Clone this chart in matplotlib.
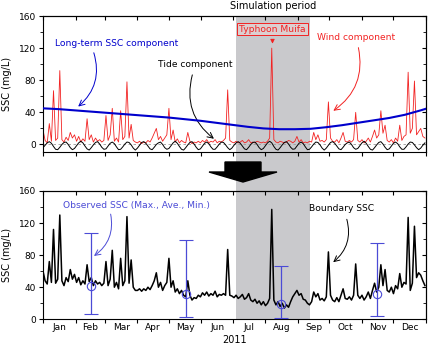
import numpy as np
import matplotlib
matplotlib.use("Agg")
import matplotlib.pyplot as plt
from matplotlib import transforms
from matplotlib.patches import Rectangle, Polygon
from matplotlib.ticker import FixedLocator, NullFormatter

# ---------------- data (day of year 2011, 2-day sampling) ----------------
days = np.arange(0, 366, 2)

wind_component = [
    18, 5, 2, 26, 4, 67, 5, 8, 92, 6, 3, 9, 5, 15, 8,
    12, 4, 10, 3, 7, 4, 32, 6, 12, 3, 8, 4, 6, 3, 5,
    36, 5, 12, 45, 4, 8, 3, 42, 6, 10, 78, 8, 25, 5, 3,
    2, 4, 1, 3, 2, 5, 3, 8, 14, 20, 6, 10, 4, 8, 12,
    45, 6, 18, 3, 7, 2, 5, 3, 2, 15, 4, 1, 3, 2, 4,
    2, 5, 3, 6, 2, 4, 3, 6, 2, 4, 3, 5, 8, 68, 5,
    3, 2, 4, 2, 3, 5, 2, 3, 6, 2, 3, 2, 4, 3, 2,
    3, 2, 4, 8, 120, 6, 3, 2, 4, 3, 2, 3, 5, 4, 2,
    4, 10, 3, 6, 2, 3, 2, 4, 3, 15, 6, 12, 4, 5, 3,
    6, 53, 8, 4, 3, 6, 2, 8, 15, 4, 3, 5, 3, 6, 40,
    5, 3, 6, 2, 4, 8, 3, 10, 18, 8, 12, 42, 14, 24, 5,
    3, 6, 2, 8, 4, 24, 5, 10, 12, 90, 14, 20, 79, 12, 16,
    20, 10, 8,
]

tide_component = [
    -4, -1, 2,
    3.5, 1.5, -2.5, -6, -6.5, -3.5, 0, 2.5, 3, 0, -4, -6.5, -5, -1.5, 2,
    4, 2, -2, -5.5, -7, -4, -0.5, 2.5, 3.5, 0.5, -3.5, -6, -5.5, -2, 1.5,
    3, 1, -3, -6.5, -6, -3, 0.5, 3, 2.5, -0.5, -4.5, -7, -4.5, -1, 2.5,
    3.5, 1.5, -2, -5.5, -6.5, -3.5, 0, 2, 3, 0, -4, -6, -5, -1.5, 2,
    4, 1.5, -2.5, -6, -7, -4, -0.5, 2.5, 3.5, 0.5, -3.5, -6.5, -5.5, -2, 1.5,
    3, 1, -3, -6, -6, -3, 0.5, 3, 2.5, -0.5, -4, -6.5, -4.5, -1, 2,
    3.5, 1.5, -2, -5.5, -6.5, -3.5, 0, 2.5, 3, 0, -4, -6.5, -5, -1.5, 2,
    4, 2, -2.5, -6, -7, -4, -0.5, 2.5, 3.5, 0.5, -3.5, -6, -5.5, -2, 1.5,
    3, 1, -3, -6.5, -6, -3, 0.5, 3, 2.5, -0.5, -4.5, -7, -4.5, -1, 2.5,
    3.5, 1.5, -2, -5.5, -6.5, -3.5, 0, 2, 3, 0, -4, -6, -5, -1.5, 2,
    4, 1.5, -2.5, -6, -7, -4, -0.5, 2.5, 3.5, 0.5, -3.5, -6.5, -5.5, -2, 1.5,
    3, 1, -3, -6, -6, -3, 0.5, 3, 2.5, -0.5, -4, -6.5, -4.5, -1, 2,
]

longterm_days = [0, 15, 30, 45, 60, 75, 90, 105, 120, 135, 150, 165, 180,
                 195, 210, 225, 240, 255, 270, 285, 300, 315, 330, 345, 360, 365]
longterm_ssc = [45, 44, 42.5, 41, 39.5, 38, 36.5, 35, 33.5, 31.5, 29.5, 27,
                24.5, 22, 20, 19, 19, 19.5, 21.5, 24, 27, 30, 33, 37, 42.5, 44.5]

boundary_ssc = [
    60, 48, 44, 72, 46, 112, 45, 50, 130, 48, 42, 52, 47, 62, 50,
    56, 46, 52, 43, 48, 44, 68, 47, 52, 42, 48, 44, 46, 42, 45,
    72, 42, 50, 86, 40, 46, 38, 76, 42, 48, 128, 45, 74, 40, 36,
    36, 38, 35, 38, 36, 40, 37, 42, 48, 58, 40, 46, 36, 42, 46,
    76, 40, 48, 34, 38, 32, 36, 30, 28, 48, 30, 24, 27, 26, 30,
    28, 33, 30, 34, 29, 32, 30, 35, 28, 31, 30, 32, 30, 87, 30,
    29, 27, 30, 26, 28, 31, 25, 27, 32, 24, 22, 25, 20, 23, 18,
    22, 17, 20, 26, 137, 24, 18, 22, 16, 20, 14, 18, 15, 22, 28,
    32, 36, 30, 32, 25, 24, 20, 18, 22, 34, 28, 32, 24, 26, 23,
    28, 84, 30, 24, 22, 27, 22, 30, 38, 26, 25, 28, 24, 30, 69,
    30, 26, 30, 24, 28, 34, 26, 36, 45, 34, 40, 68, 42, 62, 36,
    34, 40, 32, 42, 38, 57, 40, 46, 44, 127, 36, 45, 116, 52, 58,
    55, 48, 42,
]

obs_days = [46, 136, 227, 318]
obs_max = [108, 99, 67, 95]
obs_ave = [42, 32, 19, 31]
obs_min = [7, 2.5, 1, 4.5]

month_starts = [0, 31, 59, 90, 120, 151, 181, 212, 243, 273, 304, 334, 365]
month_names = ["Jan", "Feb", "Mar", "Apr", "May", "Jun",
               "Jul", "Aug", "Sep", "Oct", "Nov", "Dec"]
simulation_period = (184, 254.5)

# ---------------- figure ----------------
plt.rcParams["font.family"] = ["DejaVu Sans"]
fig = plt.figure(figsize=(4.28, 3.45), dpi=100)
ax1 = fig.add_axes([0.1005, 0.558, 0.8948, 0.3956])
ax2 = fig.add_axes([0.1005, 0.0745, 0.8948, 0.372])

BLUE = "#0000cc"
OBS_BLUE = "#4b4bd6"
RED = "#f22222"
FS = 6.5
AFS = 6.6

month_mid = [(a + b) / 2 for a, b in zip(month_starts[:-1], month_starts[1:])]


def style_axes(ax, ylim, show_months):
    ax.set_facecolor("none")
    ax.set_xlim(0, 365)
    ax.set_ylim(*ylim)
    ax.xaxis.set_major_locator(FixedLocator(month_starts))
    ax.xaxis.set_major_formatter(NullFormatter())
    ax.yaxis.set_major_locator(FixedLocator([0, 40, 80, 120, 160]))
    ax.yaxis.set_minor_locator(FixedLocator([20, 60, 100, 140]))
    ax.tick_params(axis="y", which="major", direction="out", length=3,
                   width=0.8, labelsize=FS, pad=2)
    ax.tick_params(axis="y", which="minor", direction="out", length=2, width=0.6)
    ax.tick_params(axis="x", which="major", direction="out", length=3, width=0.8)
    if show_months:
        ax.set_xticks(month_mid, month_names, minor=True)
        ax.tick_params(axis="x", which="minor", length=0, labelsize=FS, pad=3)
    for s in ax.spines.values():
        s.set_linewidth(0.8)
    top = ax.secondary_xaxis("top")
    top.xaxis.set_major_locator(FixedLocator(month_starts))
    top.xaxis.set_major_formatter(NullFormatter())
    top.tick_params(direction="in", length=3, width=0.8)
    right = ax.secondary_yaxis("right")
    right.yaxis.set_major_locator(FixedLocator([0, 40, 80, 120, 160]))
    right.yaxis.set_minor_locator(FixedLocator([20, 60, 100, 140]))
    right.yaxis.set_major_formatter(NullFormatter())
    right.tick_params(which="major", direction="in", length=3, width=0.8)
    right.tick_params(which="minor", direction="in", length=2, width=0.6)
    ax.set_ylabel("SSC (mg/L)", fontsize=7, labelpad=5)


style_axes(ax1, (-10, 160), False)
style_axes(ax2, (0, 160), True)
ax2.set_xlabel("2011", fontsize=7, labelpad=2)

# shaded simulation period spanning both panels
blend = transforms.blended_transform_factory(ax2.transData, fig.transFigure)
fig.add_artist(Rectangle((simulation_period[0], 0.0745),
                         simulation_period[1] - simulation_period[0],
                         0.9536 - 0.0745, transform=blend,
                         facecolor="#c9c9cc", edgecolor="none", zorder=-1))

# top panel: decomposition
ax1.axhline(0, color="#999999", lw=0.6, ls=(0, (3, 3)), zorder=1)
ax1.plot(days, wind_component, color=RED, lw=0.6, zorder=2)
ax1.plot(days, tide_component, color="black", lw=0.7, zorder=3)
ax1.plot(longterm_days, longterm_ssc, color=BLUE, lw=1.5, zorder=4)

ax1.text(11.4, 126, "Long-term SSC component", color=BLUE, fontsize=AFS,
         va="center", ha="left")
ax1.annotate("", xy=(31.5, 45), xytext=(47.6, 117.5),
             arrowprops=dict(arrowstyle="->", color=BLUE, lw=0.7,
                             connectionstyle="arc3,rad=-0.35"))
ax1.text(109.6, 100, "Tide component", color="black", fontsize=AFS,
         va="center", ha="left")
ax1.annotate("", xy=(165, 5), xytext=(143, 90),
             arrowprops=dict(arrowstyle="->", color="black", lw=0.7,
                             connectionstyle="arc3,rad=0.35"))
ax1.text(218.7, 143.7, "Typhoon Muifa", color=RED, fontsize=AFS,
         va="center", ha="center",
         bbox=dict(boxstyle="square,pad=0.2", facecolor="#dccfd0",
                   edgecolor=RED, lw=0.7))
ax1.annotate("", xy=(218.7, 122), xytext=(218.7, 134),
             arrowprops=dict(arrowstyle="-|>", color=RED, lw=0.7,
                             mutation_scale=6))
ax1.text(298.8, 133, "Wind component", color=RED, fontsize=AFS,
         va="center", ha="center")
ax1.annotate("", xy=(274.5, 40), xytext=(300, 124),
             arrowprops=dict(arrowstyle="->", color=RED, lw=0.7,
                             connectionstyle="arc3,rad=-0.35"))
ax1.text(219, 172, "Simulation period", color="black", fontsize=7,
         va="center", ha="center", clip_on=False)

# bottom panel: boundary SSC and observations
ax2.plot(days, boundary_ssc, color="black", lw=1.1, zorder=3)
obs_lo = np.array(obs_ave) - np.array(obs_min)
obs_hi = np.array(obs_max) - np.array(obs_ave)
ax2.errorbar(obs_days, obs_ave, yerr=[obs_lo, obs_hi], fmt="o", ms=6,
             mfc="none", mec=OBS_BLUE, mew=0.8, ecolor=OBS_BLUE,
             elinewidth=0.9, capsize=5, capthick=0.9, zorder=4)
ax2.text(18.8, 142, "Observed SSC (Max., Ave., Min.)", color=OBS_BLUE,
         fontsize=AFS, va="center", ha="left")
ax2.annotate("", xy=(46.4, 77), xytext=(63.9, 134.5),
             arrowprops=dict(arrowstyle="->", color=OBS_BLUE, lw=0.7,
                             connectionstyle="arc3,rad=-0.35"))
ax2.text(253.5, 138.7, "Boundary SSC", color="black", fontsize=AFS,
         va="center", ha="left")
ax2.annotate("", xy=(274.5, 69), xytext=(288.8, 128),
             arrowprops=dict(arrowstyle="->", color="black", lw=0.7,
                             connectionstyle="arc3,rad=-0.35"))

# big arrow between the panels (figure pixel frame)
W, H = 428.0, 345.0
arrow_px = [(225, 162), (261, 162), (261, 172), (277, 172), (243, 182),
            (209, 172), (225, 172)]
fig.add_artist(Polygon([(x / W, 1 - y / H) for x, y in arrow_px],
                       closed=True, transform=fig.transFigure,
                       facecolor="black", edgecolor="black", zorder=5))

fig.savefig("out.png", dpi=100)
